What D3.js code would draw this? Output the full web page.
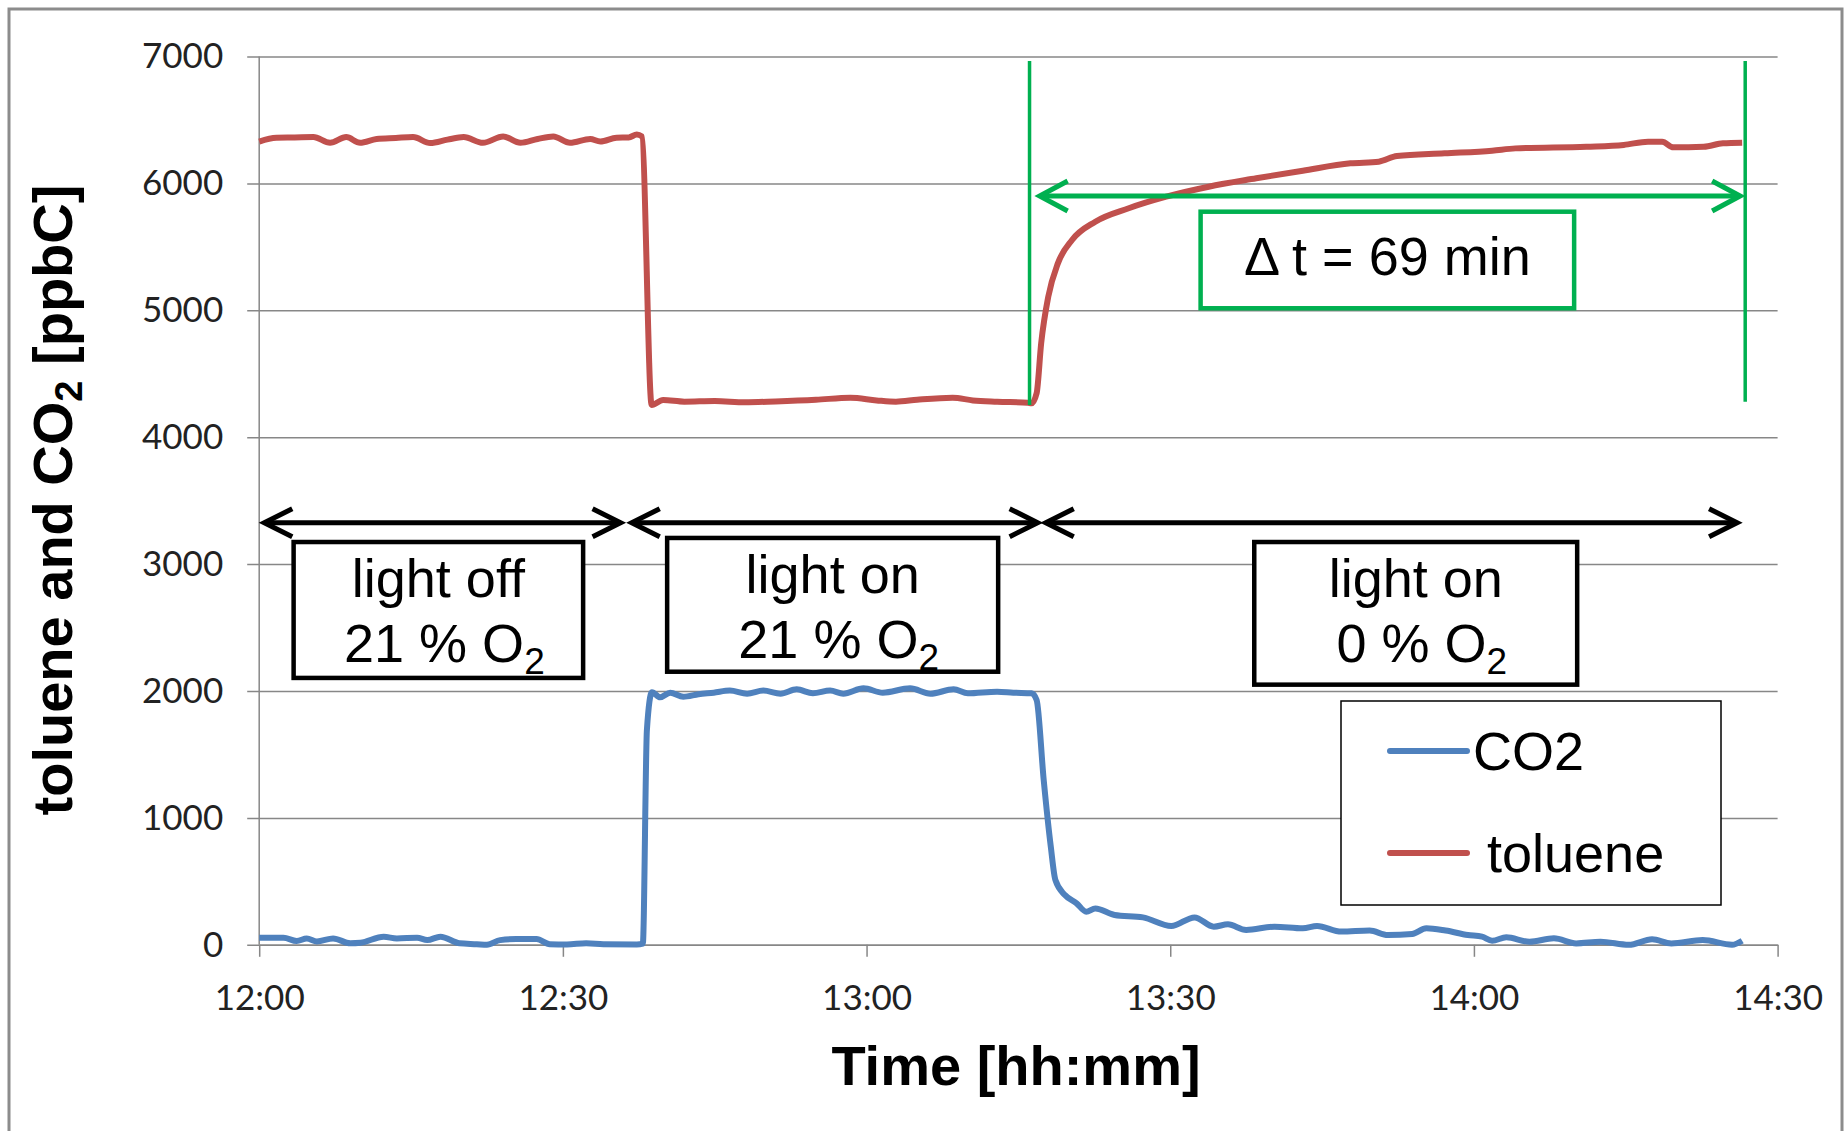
<!DOCTYPE html>
<html><head><meta charset="utf-8">
<script src="https://cdn.jsdelivr.net/npm/d3@7"></script>
<style>body{margin:0;background:#fff}svg{display:block}</style>
</head><body>
<svg id="chart" width="1847" height="1131"></svg>
<script>
// ---- data ----
const timeTicks = ["12:00","12:30","13:00","13:30","14:00","14:30"];
const valueTicks = [0,1000,2000,3000,4000,5000,6000,7000];
const seriesNames = ["CO2","toluene"];

// minutes after 12:00
const tolueneMinutes = [0,1.7,3.5,5.35,7.0,8.6,9.96,11.6,13.5,15.2,16.9,18.6,20.2,22.1,24.1,25.8,27.5,29.05,30.7,32.7,33.7,35.3,36.5,37.3,37.8,
  38.77,39.9,42,45,48,51,55,58.4,61,62.9,65,68.5,70.5,72.9,75.95,76.3,
  76.8,77.25,77.95,78.9,80.3,82.6,85.9,89.6,93.8,98.5,103.1,107.8,110.6,112.4,117.1,121.8,124.1,131.1,134.8,137.2,138.6,139.7,142.7,144.6,146.5];
const tolueneValues = [6330,6360,6362,6365,6320,6365,6320,6350,6358,6365,6318,6345,6365,6320,6370,6320,6350,6370,6320,6350,6330,6360,6362,6385,6370,
  4254,4293,4280,4285,4275,4282,4295,4311,4290,4280,4295,4311,4290,4280,4272,4267,
  4346,4740,5107,5370,5554,5698,5804,5895,5974,6040,6100,6158,6171,6216,6237,6258,6276,6289,6303,6329,6329,6284,6289,6316,6321];

const co2Minutes = [0,2.4,3.7,4.7,5.7,7.3,9.0,10,12.3,13.6,15.6,16.6,17.9,19.8,21.5,22.5,23.8,25.4,27.4,28.7,30.4,32.3,34.0,37.3,37.9,
  38.3,38.8,39.6,40.6,41.9,43.4,44.9,46.5,48.2,49.8,51.5,53.1,54.7,56.4,57.7,59.7,61.6,64.3,66.3,68.6,70.0,72.9,74.5,76.3,
  76.8,77.5,78.2,78.65,79.6,80.75,81.7,82.6,84.5,87.3,90.1,92.4,94.3,95.7,97.5,100.3,103.1,104.5,106.9,109.7,111.5,113.9,115.3,117.2,119.4,120.8,121.8,123.2,125.5,127.9,130.1,132.5,135.3,137.6,139.5,142.6,145.5,146.5];
const co2Values = [56,56,30,50,26,50,12,16,64,50,56,37,64,12,5,0,37,45,45,5,3,12,5,3,10,
  1693,1990,1950,1987,1955,1975,1987,2003,1979,2003,1979,2013,1982,2003,1979,2021,1987,2021,1979,2013,1982,1995,1987,1982,
  1929,1299,773,511,392,327,261,287,235,216,148,216,143,161,117,143,130,148,104,112,77,85,130,112,77,64,32,59,24,51,11,24,0,43,11,37,0,32];

// annotation content
const phaseLabels = [["light off","21 % O","2"],["light on","21 % O","2"],["light on","0 % O","2"]];
const deltaLabel = "\u0394 t = 69 min";

// ---- layout ----
const svg = d3.select("#chart");
const X0 = 259.2, X1 = 1777.6, Y0 = 56.5, Y1 = 944.8;
const base = new Date(2000,0,1,12,0,0);
const toDate = m => new Date(base.getTime() + m*60000);
const parseT = d3.timeParse("%H:%M");
const tickDates = timeTicks.map(s => { const p = parseT(s); return new Date(2000,0,1,p.getHours(),p.getMinutes()); });

const x = d3.scaleTime().domain([tickDates[0], tickDates[tickDates.length-1]]).range([X0, X1]);
const y = d3.scaleLinear().domain([0, 7000]).range([Y1, Y0]);

const grid = "#878787";
const colors = {CO2:"#4F81BD", toluene:"#C0504D"};
const green = "#00B050";

// outer frame
svg.append("rect").attr("x",9).attr("y",9).attr("width",1833).attr("height",1135)
  .attr("fill","#fff").attr("stroke","#8c8c8c").attr("stroke-width",3);

// y axis with gridlines
const yAxis = svg.append("g").attr("transform",`translate(${X0},0)`)
  .call(d3.axisLeft(y).tickValues(valueTicks).tickSizeInner(-(X1-X0)).tickSizeOuter(0).tickPadding(36).tickFormat(d3.format("d")));
yAxis.select(".domain").remove();
yAxis.selectAll(".tick line").attr("x1",-12).attr("x2",X1-X0).attr("stroke",grid).attr("stroke-width",1.5);
yAxis.selectAll(".tick text").attr("font-family","Lato, 'Open Sans', sans-serif").attr("font-size",35).attr("fill","#222");

// x axis
const xAxis = svg.append("g").attr("transform",`translate(0,${Y1})`)
  .call(d3.axisBottom(x).tickValues(tickDates).tickFormat(d3.timeFormat("%H:%M")).tickSizeInner(12).tickSizeOuter(0).tickPadding(28));
xAxis.select(".domain").attr("stroke",grid).attr("stroke-width",1.5);
xAxis.selectAll(".tick line").attr("stroke",grid).attr("stroke-width",1.5);
xAxis.selectAll(".tick text").attr("font-family","Lato, 'Open Sans', sans-serif").attr("font-size",35).attr("fill","#222");

// y axis line
svg.append("line").attr("x1",X0).attr("x2",X0).attr("y1",Y0).attr("y2",Y1).attr("stroke",grid).attr("stroke-width",1.5);

// lines
const line = d3.line().x(d=>x(toDate(d[0]))).y(d=>y(d[1])).curve(d3.curveMonotoneX);
const tolData = tolueneMinutes.map((m,i)=>[m,tolueneValues[i]]);
const co2Data = co2Minutes.map((m,i)=>[m,co2Values[i]]);
svg.append("path").datum(co2Data).attr("d",line).attr("fill","none").attr("stroke",colors.CO2).attr("stroke-width",6).attr("stroke-linejoin","round");
svg.append("path").datum(tolData).attr("d",line).attr("fill","none").attr("stroke",colors.toluene).attr("stroke-width",6).attr("stroke-linejoin","round");

// double arrows helper
function dblArrow(xa, xb, yy, color, w, L, H){
  const g = svg.append("g").attr("fill","none").attr("stroke",color).attr("stroke-width",w).attr("stroke-linejoin","miter");
  g.append("line").attr("x1",xa+2).attr("x2",xb-2).attr("y1",yy).attr("y2",yy);
  g.append("path").attr("d",`M${xa+L},${yy-H}L${xa},${yy}L${xa+L},${yy+H}`);
  g.append("path").attr("d",`M${xb-L},${yy-H}L${xb},${yy}L${xb-L},${yy+H}`);
}

// phase arrows (time in minutes, value level)
const arrowLevel = 3326;
const phaseArrows = [[0.5,35.7],[36.8,76.9],[77.7,146.0]];
phaseArrows.forEach(a => dblArrow(x(toDate(a[0])), x(toDate(a[1])), y(arrowLevel), "#000", 5, 28, 14));

// phase boxes: [t0, t1, vTop, vBottom]
const phaseBoxes = [[3.4,32.0,3174,2103],[40.3,73.0,3206,2152],[98.3,130.2,3174,2050]];
const textFont = "'Liberation Sans', Arial, sans-serif";
phaseBoxes.forEach((b,i) => {
  const bx = x(toDate(b[0])), bx2 = x(toDate(b[1])), by = y(b[2]), by2 = y(b[3]);
  svg.append("rect").attr("x",bx).attr("y",by).attr("width",bx2-bx).attr("height",by2-by)
    .attr("fill","#fff").attr("stroke","#000").attr("stroke-width",4.5);
  const cx = (bx+bx2)/2;
  svg.append("text").attr("x",cx).attr("y",by+55).attr("text-anchor","middle")
    .attr("font-family",textFont).attr("font-size",54).attr("fill","#000").text(phaseLabels[i][0]);
  const t2 = svg.append("text").attr("x",cx+6).attr("y",by+120).attr("text-anchor","middle")
    .attr("font-family",textFont).attr("font-size",54).attr("fill","#000");
  t2.append("tspan").text(phaseLabels[i][1]);
  t2.append("tspan").attr("font-size",37).attr("dy",12).text(phaseLabels[i][2]);
});

// green markers
const markStart = 76.1, markEnd = 146.8;
svg.append("line").attr("x1",x(toDate(markStart))).attr("x2",x(toDate(markStart))).attr("y1",y(6965)).attr("y2",y(4254)).attr("stroke",green).attr("stroke-width",3.5);
svg.append("line").attr("x1",x(toDate(markEnd))).attr("x2",x(toDate(markEnd))).attr("y1",y(6965)).attr("y2",y(4280)).attr("stroke",green).attr("stroke-width",3.5);
dblArrow(x(toDate(77.1)), x(toDate(146.3)), y(5901), green, 5, 28, 15);
const gb = [93.0,129.9,5777,5016];
const gx = x(toDate(gb[0])), gx2 = x(toDate(gb[1])), gy = y(gb[2]), gy2 = y(gb[3]);
svg.append("rect").attr("x",gx).attr("y",gy).attr("width",gx2-gx).attr("height",gy2-gy)
  .attr("fill","#fff").attr("stroke",green).attr("stroke-width",4.5);
svg.append("text").attr("x",(gx+gx2)/2).attr("y",gy+63).attr("text-anchor","middle")
  .attr("font-family",textFont).attr("font-size",54).attr("fill","#000").text(deltaLabel);

// legend
const lg = svg.append("g");
lg.append("rect").attr("x",1341).attr("y",701).attr("width",380).attr("height",204)
  .attr("fill","#fff").attr("stroke","#000").attr("stroke-width",1.5);
seriesNames.forEach((s,i) => {
  const ly = 751 + i*102;
  lg.append("line").attr("x1",1390).attr("x2",1467).attr("y1",ly).attr("y2",ly)
    .attr("stroke",colors[s]).attr("stroke-width",6).attr("stroke-linecap","round");
  lg.append("text").attr("x",i===0?1473:1487).attr("y",ly+19).attr("font-family",textFont)
    .attr("font-size",54).attr("fill","#000").text(s);
});

// axis titles
svg.append("text").attr("x",1016).attr("y",1085).attr("text-anchor","middle")
  .attr("font-family",textFont).attr("font-weight","bold").attr("font-size",56).attr("fill","#000").text("Time [hh:mm]");
const yt = svg.append("text").attr("transform","translate(72,500) rotate(-90)").attr("text-anchor","middle")
  .attr("font-family",textFont).attr("font-weight","bold").attr("font-size",56).attr("fill","#000");
yt.append("tspan").text("toluene and CO");
yt.append("tspan").attr("font-size",38).attr("dy",10).text("2");
yt.append("tspan").attr("dy",-10).text(" [ppbC]");
</script>
</body></html>
